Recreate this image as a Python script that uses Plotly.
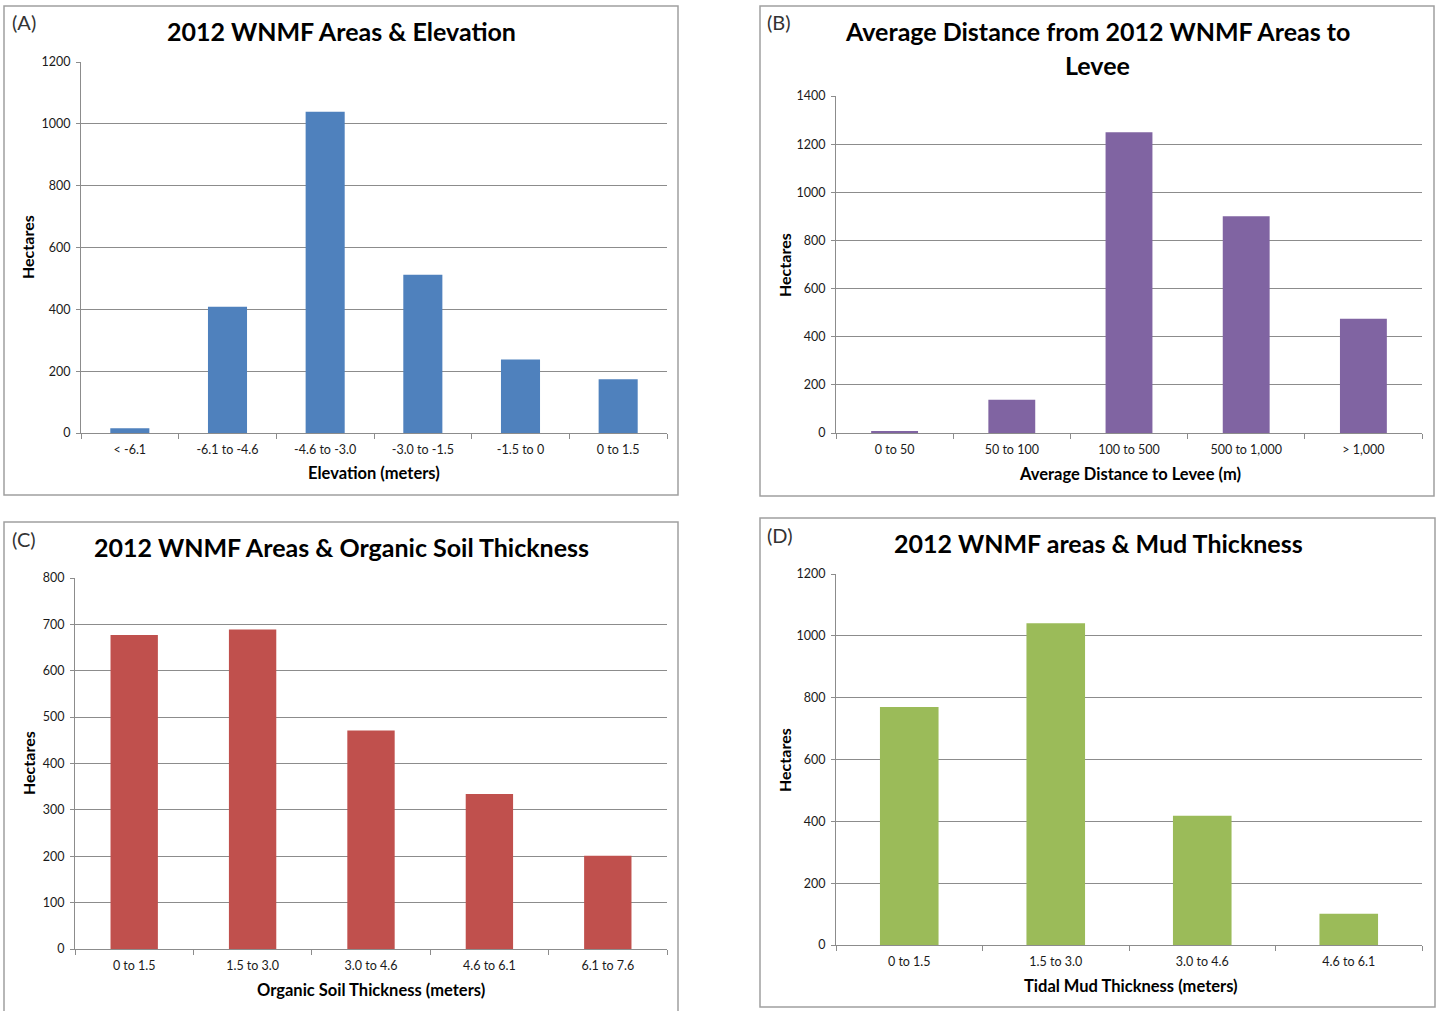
import plotly.graph_objects as go

# ---- Data ----
elev_cats = ["< -6.1", "-6.1 to -4.6", "-4.6 to -3.0", "-3.0 to -1.5", "-1.5 to 0", "0 to 1.5"]
elev_vals = [15, 408, 1039, 512, 238, 174]

dist_cats = ["0 to 50", "50 to 100", "100 to 500", "500 to 1,000", "> 1,000"]
dist_vals = [8, 138, 1249, 900, 475]

soil_cats = ["0 to 1.5", "1.5 to 3.0", "3.0 to 4.6", "4.6 to 6.1", "6.1 to 7.6"]
soil_vals = [677, 689, 471, 334, 201]

mud_cats = ["0 to 1.5", "1.5 to 3.0", "3.0 to 4.6", "4.6 to 6.1"]
mud_vals = [770, 1041, 418, 101]

W, H = 1440, 1011
FONT = "Lato"

def px(x):
    return x / W

def py(y):
    return 1 - y / H

panels = [
    dict(cats=elev_cats, vals=elev_vals, color="#4F81BD", ymax=1200, dtick=200,
         plot=(81, 667, 62, 433), box=(4, 678, 6, 495),
         title=["2012 WNMF Areas & Elevation"], title_xy=(341, 31),
         xtitle="Elevation (meters)", xtitle_xy=(374, 473), ytitle_xy=(28, 247),
         label="(A)", label_xy=(24, 22)),
    dict(cats=dist_cats, vals=dist_vals, color="#8064A2", ymax=1400, dtick=200,
         plot=(836, 1422, 96, 433), box=(760, 1434, 6, 496),
         title=["Average Distance from 2012 WNMF Areas to", "Levee"], title_xy=(1097, 31),
         xtitle="Average Distance to Levee (m)", xtitle_xy=(1130, 474), ytitle_xy=(784, 265),
         label="(B)", label_xy=(779, 22)),
    dict(cats=soil_cats, vals=soil_vals, color="#C0504D", ymax=800, dtick=100,
         plot=(75, 667, 578, 949), box=(4, 678, 522, 1012),
         title=["2012 WNMF Areas & Organic Soil Thickness"], title_xy=(341, 547),
         xtitle="Organic Soil Thickness (meters)", xtitle_xy=(371, 990), ytitle_xy=(28, 763),
         label="(C)", label_xy=(24, 539)),
    dict(cats=mud_cats, vals=mud_vals, color="#9BBB59", ymax=1200, dtick=200,
         plot=(836, 1422, 574, 945), box=(760, 1435, 518, 1007),
         title=["2012 WNMF areas & Mud Thickness"], title_xy=(1098, 543),
         xtitle="Tidal Mud Thickness (meters)", xtitle_xy=(1131, 986), ytitle_xy=(784, 760),
         label="(D)", label_xy=(780, 535)),
]

fig = go.Figure()
annotations = []
shapes = []
layout_axes = {}

for i, p in enumerate(panels, start=1):
    xa = "x" if i == 1 else f"x{i}"
    ya = "y" if i == 1 else f"y{i}"
    fig.add_trace(go.Bar(x=p["cats"], y=p["vals"], marker=dict(color=p["color"], line=dict(width=0)),
                         xaxis=xa, yaxis=ya, showlegend=False, hoverinfo="x+y"))
    x0, x1, y0, y1 = p["plot"]
    xkey = "xaxis" if i == 1 else f"xaxis{i}"
    ykey = "yaxis" if i == 1 else f"yaxis{i}"
    layout_axes[xkey] = dict(
        domain=[px(x0), px(x1)], anchor=ya, type="category", automargin=False,
        showline=True, linecolor="#8c8c8c", linewidth=1.2,
        ticks="outside", tickson="boundaries", ticklen=5, tickcolor="#8c8c8c",
        ticklabelstandoff=5,
        tickfont=dict(family=FONT, size=12.5, color="#1a1a1a"), showgrid=False,
        fixedrange=True,
    )
    layout_axes[ykey] = dict(
        domain=[py(y1), py(y0)], anchor=xa, range=[0, p["ymax"]], dtick=p["dtick"],
        automargin=False,
        showline=True, linecolor="#8c8c8c", linewidth=1.2,
        ticks="outside", ticklen=4, tickcolor="#8c8c8c", ticklabelstandoff=3,
        showgrid=True, gridcolor="#8c8c8c", gridwidth=1,
        tickfont=dict(family=FONT, size=12.5, color="#1a1a1a"),
        zeroline=False, fixedrange=True,
    )
    bx0, bx1, by0, by1 = p["box"]
    shapes.append(dict(type="rect", xref="paper", yref="paper",
                       x0=px(bx0), x1=px(bx1), y0=py(by1), y1=py(by0),
                       line=dict(color="#A0A0A0", width=1.5), fillcolor="rgba(0,0,0,0)"))
    tx, ty = p["title_xy"]
    for k, line in enumerate(p["title"]):
        annotations.append(dict(text=f"<b>{line}</b>", xref="paper", yref="paper",
                                x=px(tx), y=py(ty + 34 * k), xanchor="center", yanchor="middle",
                                showarrow=False, font=dict(family=FONT, size=25, color="#000")))
    xtx, xty = p["xtitle_xy"]
    annotations.append(dict(text=f"<b>{p['xtitle']}</b>", xref="paper", yref="paper",
                            x=px(xtx), y=py(xty), xanchor="center", yanchor="middle",
                            showarrow=False, font=dict(family=FONT, size=16.5, color="#000")))
    ytx, yty = p["ytitle_xy"]
    annotations.append(dict(text="<b>Hectares</b>", xref="paper", yref="paper",
                            x=px(ytx), y=py(yty), xanchor="center", yanchor="middle", textangle=-90,
                            showarrow=False, font=dict(family=FONT, size=16, color="#000")))
    lx, ly = p["label_xy"]
    annotations.append(dict(text=p["label"], xref="paper", yref="paper",
                            x=px(lx), y=py(ly), xanchor="center", yanchor="middle",
                            showarrow=False, font=dict(family=FONT, size=20, color="#333")))

fig.update_layout(
    width=W, height=H, autosize=False,
    margin=dict(l=0, r=0, t=0, b=0, pad=0, autoexpand=False),
    paper_bgcolor="white", plot_bgcolor="white",
    bargap=0.6, annotations=annotations, shapes=shapes,
    font=dict(family=FONT),
    **layout_axes,
)

fig.write_html(
    "out.html",
    config={"displayModeBar": False},
    post_script=(
        "document.documentElement.style.margin='0';"
        "document.documentElement.style.overflow='hidden';"
        "document.body.style.margin='0';document.body.style.padding='0';"
        "document.body.style.overflow='hidden';"
        "var gd=document.getElementById('{plot_id}');"
        "gd.style.position='fixed';gd.style.top='0px';gd.style.left='0px';"
    ),
)
